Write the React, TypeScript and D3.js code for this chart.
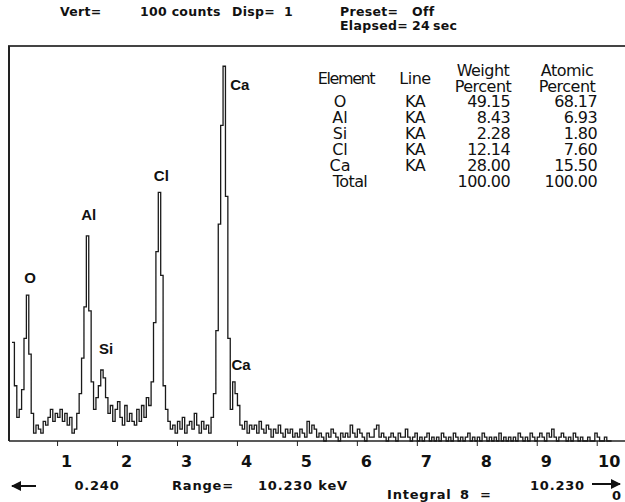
import React, { useEffect } from 'react';
import * as d3 from 'd3';

// spectrum: counts per 0.04 keV channel, starting at 0.24 keV
const startKeV = 0.24;
const endKeV = 10.23;
const channelKeV = 0.04;
const counts = [
  25, 14, 6, 8, 13, 26, 37, 22, 7, 2,
  4, 3, 2, 5, 4, 6, 8, 5, 7, 6,
  8, 5, 7, 4, 6, 2, 3, 7, 12, 21,
  34, 52, 33, 15, 8, 11, 14, 18, 16, 11,
  7, 9, 5, 8, 10, 6, 4, 9, 5, 7,
  5, 4, 8, 5, 9, 6, 11, 9, 15, 30,
  48, 63, 42, 14, 8, 5, 3, 4, 2, 5,
  3, 6, 2, 4, 5, 3, 7, 4, 2, 5,
  3, 4, 2, 6, 12, 28, 55, 80, 95, 62,
  26, 8, 15, 12, 9, 4, 3, 5, 2, 4,
  3, 4, 2, 5, 3, 2, 4, 3, 1, 3,
  2, 4, 2, 1, 3, 2, 3, 1, 2, 1,
  3, 2, 1, 5, 2, 4, 3, 1, 2, 1,
  0, 2, 1, 3, 2, 1, 0, 2, 1, 2,
  1, 4, 2, 1, 3, 2, 1, 0, 2, 1,
  1, 3, 4, 1, 2, 1, 0, 1, 2, 1,
  0, 2, 1, 1, 3, 1, 0, 1, 2, 0,
  1, 0, 1, 2, 0, 1, 0, 1, 0, 2,
  1, 0, 1, 0, 2, 1, 0, 1, 0, 1,
  2, 0, 1, 0, 1, 0, 2, 1, 0, 1,
  0, 1, 0, 2, 0, 1, 0, 1, 0, 1,
  0, 2, 1, 0, 1, 0, 2, 1, 0, 1,
  2, 1, 0, 2, 1, 3, 1, 0, 1, 2,
  1, 0, 1, 0, 2, 1, 0, 1, 0, 0,
  1, 0, 0, 2, 1, 0, 0, 1, 0, 0,
];

// peak labels (energy keV, counts where the label sits)
const peakNames = ['O', 'Al', 'Si', 'Cl', 'Ca', 'Ca'];
const peakKeV = [0.54, 1.52, 1.81, 2.73, 4.04, 4.06];
const peakCounts = [40, 56, 22, 66, 89, 18];

const xTicks = [1, 2, 3, 4, 5, 6, 7, 8, 9, 10];

// quantification table
const elements = ['O', 'Al', 'Si', 'Cl', 'Ca'];
const lineNames = ['KA', 'KA', 'KA', 'KA', 'KA'];
const weightPct = ['49.15', '8.43', '2.28', '12.14', '28.00'];
const atomicPct = ['68.17', '6.93', '1.80', '7.60', '15.50'];
const totals = ['100.00', '100.00'];

const W = 625;
const H = 502;
const frameL = 9;
const frameT = 46;
const axisY = 441;

export default function App() {
  useEffect(() => {
    document.body.style.margin = '0';
  }, []);

  const x = d3.scaleLinear().domain([startKeV, endKeV]).range([12, 611]);
  const y = d3.scaleLinear().domain([0, 100]).range([axisY, frameT + 0.5]);

  const pts: [number, number][] = counts.map((c, i) => [startKeV + i * channelKeV, c]);
  pts.push([startKeV + counts.length * channelKeV, counts[counts.length - 1]]);
  const line = d3
    .line<[number, number]>()
    .x((d) => Math.min(x(d[0]), W))
    .y((d) => y(d[1]))
    .curve(d3.curveStepAfter);

  const mono = '"DejaVu Sans", Verdana, sans-serif';
  const table = '"DejaVu Sans", Tahoma, sans-serif';
  const lab = '"Liberation Sans", Arial, sans-serif';

  const rowY = (i: number) => 107 + i * 16;

  return (
    <svg width={W} height={H} style={{ display: 'block', background: '#fff' }}>
      {/* header */}
      <g fontFamily={mono} fontWeight="bold" fontSize={12.5} letterSpacing={0.3} fill="#111">
        <text x={60} y={16}>Vert=</text>
        <text x={140} y={16}>100 counts</text>
        <text x={232} y={16}>Disp=</text>
        <text x={284} y={16}>1</text>
        <text x={340} y={16}>Preset=</text>
        <text x={412} y={16}>Off</text>
        <text x={340} y={30}>Elapsed=</text>
        <text x={412} y={30}>24</text>
        <text x={433} y={30}>sec</text>
      </g>

      {/* frame */}
      <line x1={frameL - 1} x2={W} y1={frameT} y2={frameT} stroke="#444" strokeWidth={2} />
      <line x1={frameL} x2={frameL} y1={frameT} y2={axisY} stroke="#222" strokeWidth={2} />
      <line x1={frameL} x2={W} y1={axisY} y2={axisY} stroke="#222" strokeWidth={1.6} />

      {/* spectrum */}
      <path d={line(pts) ?? ''} fill="none" stroke="#1a1a1a" strokeWidth={1.3} />

      {/* ticks */}
      {xTicks.map((t) => (
        <g key={t}>
          <line x1={x(t)} x2={x(t)} y1={axisY} y2={axisY + 5} stroke="#222" strokeWidth={1} />
          <text
            x={x(t) + (t === 10 ? 12 : 9)}
            y={467}
            textAnchor="middle"
            fontFamily={mono}
            fontWeight="bold"
            fontSize={16}
            fill="#111"
          >
            {t}
          </text>
        </g>
      ))}

      {/* peak labels */}
      {peakNames.map((n, i) => (
        <text
          key={i}
          x={x(peakKeV[i])}
          y={y(peakCounts[i])}
          textAnchor="middle"
          fontFamily={lab}
          fontWeight="bold"
          fontSize={15}
          fill="#111"
        >
          {n}
        </text>
      ))}

      {/* table */}
      <g fontFamily={table} fontSize={16} fill="#111">
        <text x={346} y={84} textAnchor="middle" letterSpacing={-1.4}>Element</text>
        <text x={415} y={84} textAnchor="middle" letterSpacing={-0.5}>Line</text>
        <text x={483} y={76} textAnchor="middle" letterSpacing={-0.5}>Weight</text>
        <text x={483} y={92} textAnchor="middle" letterSpacing={-0.5}>Percent</text>
        <text x={567} y={76} textAnchor="middle" letterSpacing={-0.5}>Atomic</text>
        <text x={567} y={92} textAnchor="middle" letterSpacing={-0.5}>Percent</text>
        {elements.map((e, i) => (
          <g key={e}>
            <text x={340} y={rowY(i)} textAnchor="middle">{e}</text>
            <text x={415} y={rowY(i)} textAnchor="middle" letterSpacing={-0.5}>{lineNames[i]}</text>
            <text x={510} y={rowY(i)} textAnchor="end" letterSpacing={-0.6}>{weightPct[i]}</text>
            <text x={597} y={rowY(i)} textAnchor="end" letterSpacing={-0.6}>{atomicPct[i]}</text>
          </g>
        ))}
        <text x={350} y={rowY(5)} textAnchor="middle" letterSpacing={-0.6}>Total</text>
        <text x={510} y={rowY(5)} textAnchor="end" letterSpacing={-0.6}>{totals[0]}</text>
        <text x={597} y={rowY(5)} textAnchor="end" letterSpacing={-0.6}>{totals[1]}</text>
      </g>

      {/* footer */}
      <g fontFamily={mono} fontWeight="bold" fontSize={13} letterSpacing={0.8} fill="#111">
        <path d="M12,486 L36,486" stroke="#111" strokeWidth={2} />
        <path d="M11,486 L21,481 L21,491 Z" fill="#111" />
        <text x={97} y={490} textAnchor="middle">0.240</text>
        <text x={172} y={490}>Range=</text>
        <text x={258} y={490}>10.230 keV</text>
        <text x={530} y={490}>10.230</text>
        <path d="M592,484 L620,484" stroke="#111" strokeWidth={2} />
        <path d="M621,484 L611,479 L611,489 Z" fill="#111" />
        <text x={387} y={499}>Integral</text>
        <text x={460} y={499}>8</text>
        <text x={480} y={499}>=</text>
        <text x={612} y={500}>0</text>
      </g>
    </svg>
  );
}
